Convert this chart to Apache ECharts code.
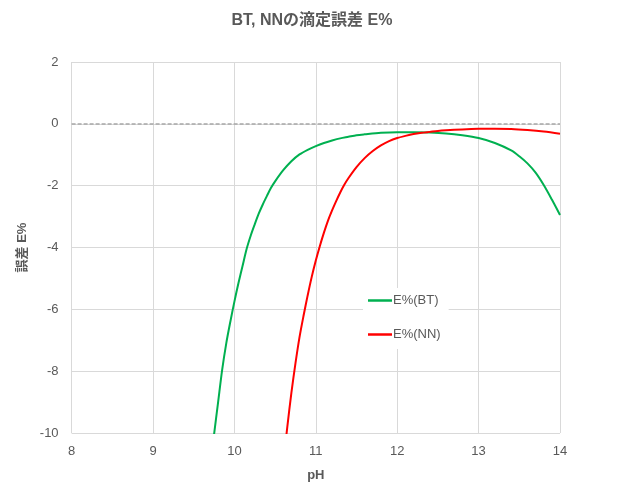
<!DOCTYPE html>
<html><head><meta charset="utf-8">
<script src="https://cdn.jsdelivr.net/npm/echarts@6/dist/echarts.min.js"></script>
<style>html,body{margin:0;padding:0;background:#fff}#c{width:624px;height:502px}</style>
</head><body><div id="c"></div>
<script>
var titleText = 'BT, NNの滴定誤差 E%';
var seriesNames = ['E%(BT)', 'E%(NN)'];
var phBT = [9.70, 9.75, 9.80, 9.85, 9.90, 9.95, 10.00, 10.05, 10.10, 10.15, 10.20, 10.25, 10.30, 10.35, 10.40, 10.45, 10.50, 10.60, 10.70, 10.80, 10.90, 11.00, 11.10, 11.20, 11.30, 11.40, 11.50, 11.60, 11.80, 12.00, 12.20, 12.40, 12.60, 12.80, 13.00, 13.20, 13.40, 13.50, 13.60, 13.70, 13.80, 13.90, 14.00];
var eBT = [-11.2, -10.05, -9.0, -7.95, -7.1, -6.4, -5.75, -5.15, -4.6, -4.05, -3.62, -3.25, -2.9, -2.6, -2.33, -2.07, -1.86, -1.5, -1.21, -0.99, -0.84, -0.72, -0.62, -0.54, -0.47, -0.42, -0.37, -0.34, -0.29, -0.27, -0.27, -0.28, -0.31, -0.37, -0.46, -0.62, -0.86, -1.05, -1.28, -1.58, -1.98, -2.45, -2.95];
var phNN = [10.60, 10.65, 10.70, 10.75, 10.80, 10.85, 10.90, 10.95, 11.00, 11.05, 11.10, 11.15, 11.20, 11.25, 11.30, 11.35, 11.40, 11.50, 11.60, 11.70, 11.80, 11.90, 12.00, 12.10, 12.20, 12.30, 12.40, 12.50, 12.60, 12.80, 13.00, 13.20, 13.40, 13.60, 13.80, 14.00];
var eNN = [-11.0, -9.8, -8.7, -7.75, -6.9, -6.2, -5.55, -4.95, -4.42, -3.95, -3.52, -3.13, -2.8, -2.5, -2.22, -1.97, -1.76, -1.4, -1.11, -0.88, -0.7, -0.56, -0.46, -0.39, -0.33, -0.29, -0.26, -0.23, -0.21, -0.18, -0.16, -0.155, -0.165, -0.2, -0.25, -0.32];
var xMin = 8, xMax = 14, xStep = 1;
var yMin = -10, yMax = 2, yStep = 2;

function pairs(xs, ys){ return xs.map(function(x,i){ return [x, ys[i]]; }); }
var txt = '#595959';
var fontFam = '"Liberation Sans", "Noto Sans CJK JP", sans-serif';
var chart = echarts.init(document.getElementById('c'), null, {renderer:'canvas'});
chart.setOption({
  backgroundColor: '#fff',
  animation: false,
  title: { text: titleText, left: 'center', top: 8,
    textStyle: { color: txt, fontSize: 16, fontWeight: 'bold', fontFamily: fontFam } },
  legend: {
    orient: 'vertical', left: 363, top: 288, backgroundColor: '#fff',
    padding: [6, 8, 8, 5], itemGap: 21, itemWidth: 24, itemHeight: 2.5, icon: 'rect',
    textStyle: { color: txt, fontSize: 13, fontFamily: fontFam, padding: [0,0,0,-4] },
    data: seriesNames
  },
  grid: { left: 71.6, right: 64, top: 62, bottom: 69, containLabel: false },
  xAxis: {
    type: 'value', min: xMin, max: xMax, interval: xStep,
    name: 'pH', nameLocation: 'middle', nameGap: 36,
    nameTextStyle: { color: txt, fontSize: 13, fontWeight: 'bold', fontFamily: fontFam },
    axisLine: { show: false }, axisTick: { show: false },
    axisLabel: { color: txt, fontSize: 13, margin: 12, fontFamily: fontFam },
    splitLine: { show: true, lineStyle: { color: '#D9D9D9', width: 1 } }
  },
  yAxis: {
    type: 'value', min: yMin, max: yMax, interval: yStep,
    name: '誤差 E%', nameLocation: 'middle', nameGap: 43, nameRotate: 90,
    nameTextStyle: { color: txt, fontSize: 13, fontWeight: 'bold', fontFamily: fontFam },
    axisLine: { show: false }, axisTick: { show: false },
    axisLabel: { color: txt, fontSize: 13, margin: 13, fontFamily: fontFam },
    splitLine: { show: true, lineStyle: { color: '#D9D9D9', width: 1 } }
  },
  series: [
    { name: seriesNames[0], type: 'line', data: pairs(phBT, eBT), smooth: 0.3, symbol: 'none',
      clip: true, z: 3,
      lineStyle: { color: '#00B050', width: 2 }, itemStyle: { color: '#00B050' },
      markLine: { silent: true, symbol: 'none', label: { show: false },
        lineStyle: { color: '#A6A6A6', type: [4, 2], width: 1.5 },
        data: [{ yAxis: 0 }] } },
    { name: seriesNames[1], type: 'line', data: pairs(phNN, eNN), smooth: 0.3, symbol: 'none',
      clip: true, z: 3,
      lineStyle: { color: '#FF0000', width: 2 }, itemStyle: { color: '#FF0000' } }
  ]
});
</script></body></html>
